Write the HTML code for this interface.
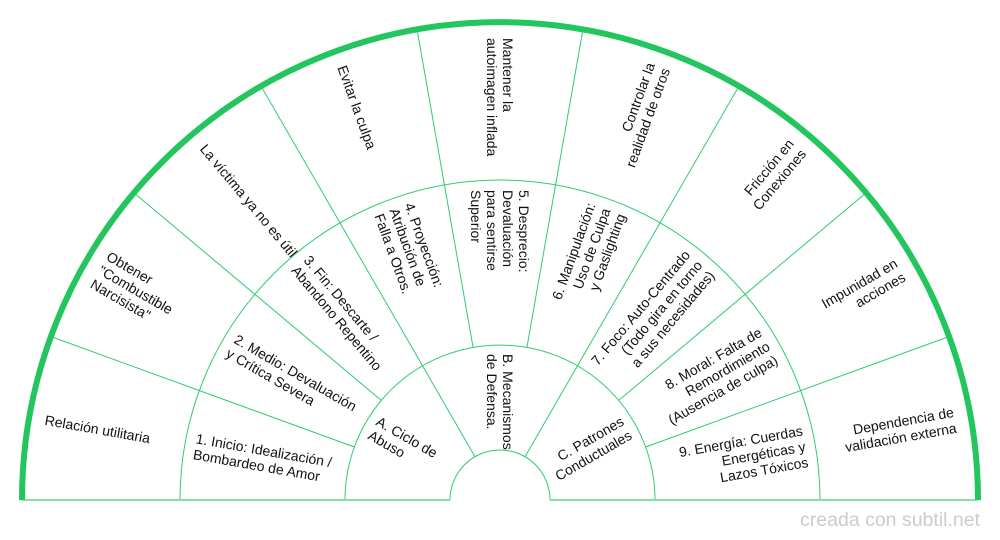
<!DOCTYPE html>
<html><head><meta charset="utf-8"><style>
html,body{margin:0;padding:0;background:#fff;}
svg{display:block;}
text{font-family:"Liberation Sans",Arial,sans-serif;font-size:14px;fill:#111;}
</style></head><body>
<svg width="1000" height="540" viewBox="0 0 1000 540" xmlns="http://www.w3.org/2000/svg">
<g stroke="#2ecc71" stroke-width="1" fill="none">
<path d="M450 500 A50 50 0 0 1 550 500"/>
<path d="M345 500 A155 155 0 0 1 655 500"/>
<path d="M180 500 A320 320 0 0 1 820 500"/>
<line x1="655" y1="500" x2="978" y2="500" transform="rotate(-20 500 500)"/>
<line x1="655" y1="500" x2="978" y2="500" transform="rotate(-40 500 500)"/>
<line x1="655" y1="500" x2="978" y2="500" transform="rotate(-60 500 500)"/>
<line x1="655" y1="500" x2="978" y2="500" transform="rotate(-80 500 500)"/>
<line x1="655" y1="500" x2="978" y2="500" transform="rotate(-100 500 500)"/>
<line x1="655" y1="500" x2="978" y2="500" transform="rotate(-120 500 500)"/>
<line x1="655" y1="500" x2="978" y2="500" transform="rotate(-140 500 500)"/>
<line x1="655" y1="500" x2="978" y2="500" transform="rotate(-160 500 500)"/>
<line x1="550" y1="500" x2="655" y2="500" transform="rotate(-60 500 500)"/>
<line x1="550" y1="500" x2="655" y2="500" transform="rotate(-120 500 500)"/>
</g>
<g stroke="#86dfa8" stroke-width="2">
<line x1="22" y1="500" x2="450" y2="500"/>
<line x1="550" y1="500" x2="978" y2="500"/>
</g>
<path d="M22 500 A478 478 0 0 1 978 500" stroke="#22c55e" stroke-width="6" fill="none"/>

<!-- outer ring -->
<text transform="rotate(-170 500 500) translate(962,500) rotate(180)" text-anchor="start"><tspan x="0" dy="5">Relación utilitaria</tspan></text>
<text transform="rotate(-150 500 500) translate(962,500) rotate(180)" text-anchor="start"><tspan x="0" dy="-11">Obtener</tspan><tspan x="0" dy="16">"Combustible</tspan><tspan x="0" dy="16">Narcisista"</tspan></text>
<text transform="rotate(-130 500 500) translate(962,500) rotate(180)" text-anchor="start"><tspan x="0" dy="5">La víctima ya no es útil</tspan></text>
<text transform="rotate(-110 500 500) translate(962,500) rotate(180)" text-anchor="start"><tspan x="0" dy="5">Evitar la culpa</tspan></text>
<text transform="rotate(-90 500 500) translate(962,500) rotate(180)" text-anchor="start"><tspan x="0" dy="-3">Mantener la</tspan><tspan x="0" dy="16">autoimagen inflada</tspan></text>
<text transform="rotate(-70 500 500) translate(962,500)" text-anchor="end"><tspan x="0" dy="-3">Controlar la</tspan><tspan x="0" dy="16">realidad de otros</tspan></text>
<text transform="rotate(-50 500 500) translate(962,500)" text-anchor="end"><tspan x="0" dy="-3">Fricción en</tspan><tspan x="0" dy="16">Conexiones</tspan></text>
<text transform="rotate(-30 500 500) translate(962,500)" text-anchor="end"><tspan x="0" dy="-3">Impunidad en</tspan><tspan x="0" dy="16">acciones</tspan></text>
<text transform="rotate(-10 500 500) translate(962,500)" text-anchor="end"><tspan x="0" dy="-3">Dependencia de</tspan><tspan x="0" dy="16">validación externa</tspan></text>

<!-- middle ring -->
<text transform="rotate(-170 500 500) translate(810,500) rotate(180)" text-anchor="start"><tspan x="0" dy="-3">1. Inicio: Idealización /</tspan><tspan x="0" dy="16">Bombardeo de Amor</tspan></text>
<text transform="rotate(-150 500 500) translate(810,500) rotate(180)" text-anchor="start"><tspan x="0" dy="-3">2. Medio: Devaluación</tspan><tspan x="0" dy="16">y Crítica Severa</tspan></text>
<text transform="rotate(-130 500 500) translate(810,500) rotate(180)" text-anchor="start"><tspan x="0" dy="-3">3. Fin: Descarte /</tspan><tspan x="0" dy="16">Abandono Repentino</tspan></text>
<text transform="rotate(-110 500 500) translate(810,500) rotate(180)" text-anchor="start"><tspan x="0" dy="-11">4. Proyección:</tspan><tspan x="0" dy="16">Atribución de</tspan><tspan x="0" dy="16">Falla a Otros.</tspan></text>
<text transform="rotate(-90 500 500) translate(810,500) rotate(180)" text-anchor="start"><tspan x="0" dy="-19">5. Desprecio:</tspan><tspan x="0" dy="16">Devaluación</tspan><tspan x="0" dy="16">para sentirse</tspan><tspan x="0" dy="16">Superior</tspan></text>
<text transform="rotate(-70 500 500) translate(810,500)" text-anchor="end"><tspan x="0" dy="-11">6. Manipulación:</tspan><tspan x="0" dy="16">Uso de Culpa</tspan><tspan x="0" dy="16">y Gaslighting</tspan></text>
<text transform="rotate(-50 500 500) translate(810,500)" text-anchor="end"><tspan x="0" dy="-11">7. Foco: Auto-Centrado</tspan><tspan x="0" dy="16">(Todo gira en torno</tspan><tspan x="0" dy="16">a sus necesidades)</tspan></text>
<text transform="rotate(-30 500 500) translate(810,500)" text-anchor="end"><tspan x="0" dy="-11">8. Moral: Falta de</tspan><tspan x="0" dy="16">Remordimiento</tspan><tspan x="0" dy="16">(Ausencia de culpa)</tspan></text>
<text transform="rotate(-10 500 500) translate(810,500)" text-anchor="end"><tspan x="0" dy="-11">9. Energía: Cuerdas</tspan><tspan x="0" dy="16">Energéticas y</tspan><tspan x="0" dy="16">Lazos Tóxicos</tspan></text>

<!-- inner ring -->
<text transform="rotate(-150 500 500) translate(646,500) rotate(180)" text-anchor="start"><tspan x="0" dy="-3">A. Ciclo de</tspan><tspan x="0" dy="16">Abuso</tspan></text>
<text transform="rotate(-90 500 500) translate(646,500) rotate(180)" text-anchor="start"><tspan x="0" dy="-3">B. Mecanismos</tspan><tspan x="0" dy="16">de Defensa.</tspan></text>
<text transform="rotate(-30 500 500) translate(646,500)" text-anchor="end"><tspan x="0" dy="-3">C. Patrones</tspan><tspan x="0" dy="16">Conductuales</tspan></text>

<text x="980" y="526" text-anchor="end" style="font-size:19.5px;fill:#cccccc;">creada con subtil.net</text>
</svg>
</body></html>
